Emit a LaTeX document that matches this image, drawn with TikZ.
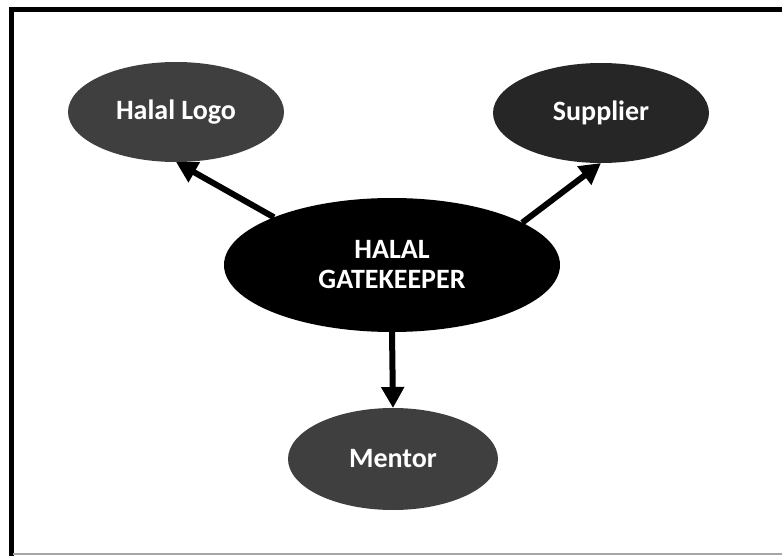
\documentclass[tikz,border=0pt]{standalone}
\usepackage{fontspec}
\setmainfont{Carlito}
\usetikzlibrary{shapes.geometric,arrows.meta}
\definecolor{midgray}{HTML}{3F3F3F}
\definecolor{darkgray}{HTML}{262626}
\begin{document}
\begin{tikzpicture}[x=1pt,y=-1pt,inner sep=0pt,outer sep=0pt,
blob/.style={ellipse,fill=midgray,minimum width=216pt,minimum height=100pt,text=white,font=\fontsize{28}{30}\selectfont\bfseries,align=center},
link/.style={line width=6pt,-{Triangle[length=21pt,width=22pt]}}]
\useasboundingbox (0,0) rectangle (782,556);
\draw[line width=5pt] (11,556) -- (11,9.5) -- (782,9.5);
\draw[line width=1.5pt,gray!70] (13,554) -- (782,554);
\draw (392,265) node[blob,fill=black,minimum width=336pt,minimum height=134pt] (gate) {HALAL\\GATEKEEPER};
\draw (176,112) node[blob] (logo) {Halal Logo};
\draw (601,113) node[blob,fill=darkgray] (supplier) {Supplier};
\draw (393,459) node[blob,minimum width=210pt,minimum height=102pt] (mentor) {Mentor};
\draw[link] (gate.158) -- (logo.south);
\draw[link] (gate.18) -- (supplier.south);
\draw[link] (gate.south) -- (mentor.north);
\end{tikzpicture}
\end{document}
